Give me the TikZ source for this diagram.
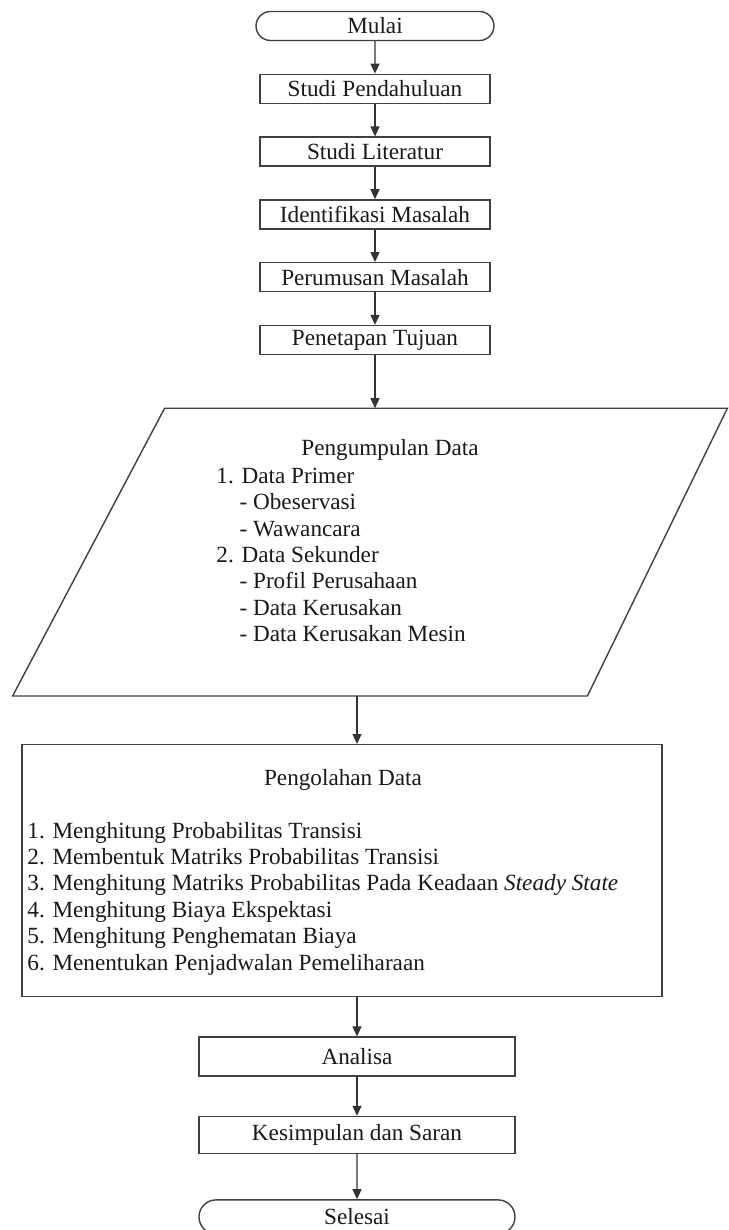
\documentclass[tikz,border=0pt]{standalone}
\usepackage{fontspec}
\setmainfont{Liberation Serif}
\usetikzlibrary{arrows.meta,positioning,shapes.misc}

\begin{document}
\begin{tikzpicture}[
    x=0.5pt, y=-0.5pt,
    node distance=16.2pt,
    every node/.style={font=\fontsize{11.6}{13.2}\selectfont, text=black!90},
    garis/.style={line width=0.7pt, draw=black!75},
    terminal/.style={garis, rounded rectangle, minimum width=119pt, minimum height=14.5pt, inner sep=0pt},
    proses/.style={garis, rectangle, minimum width=115pt, minimum height=14.5pt, inner sep=0pt},
    prosesb/.style={garis, rectangle, minimum width=158pt, minimum height=19.5pt, inner sep=0pt},
    teks/.style={inner sep=0pt, align=left},
    arrow/.style={-{Triangle[length=5pt,width=4.5pt]}, line width=0.7pt, draw=black!80}
]
\useasboundingbox (0,0) rectangle (728,1230);

\node[terminal] (mulai) at (375,26) {Mulai};
\node[proses, below=of mulai] (pendahuluan) {Studi Pendahuluan};
\node[proses, below=of pendahuluan] (literatur) {Studi Literatur};
\node[proses, below=of literatur] (identifikasi) {Identifikasi Masalah};
\node[proses, below=of identifikasi] (perumusan) {Perumusan Masalah};
\node[proses, below=of perumusan] (tujuan) {Penetapan Tujuan};

% jajaran genjang pengumpulan data
\node[minimum width=357pt, minimum height=143.5pt, inner sep=0pt, below=26.5pt of tujuan, xshift=-2.5pt] (kumpul) {};
\draw[garis] ([xshift=76pt]kumpul.north west) -- (kumpul.north east) -- ([xshift=-70pt]kumpul.south east) -- (kumpul.south west) -- cycle;
\node[teks] (judulkumpul) at (390,450) {Pengumpulan Data};
\node[teks, anchor=west] (isikumpul) at (216,555) {1. Data Primer\\
\hspace*{1em}- Obeservasi\\
\hspace*{1em}- Wawancara\\
2. Data Sekunder\\
\hspace*{1em}- Profil Perusahaan\\
\hspace*{1em}- Data Kerusakan\\
\hspace*{1em}- Data Kerusakan Mesin};

\node[garis, rectangle, minimum width=320pt, minimum height=126pt, inner sep=0pt, below=24pt of kumpul, xshift=-14pt] (olah) {};
\node[teks] (judulolah) at (343,780) {Pengolahan Data};
\node[teks, anchor=west] (isiolah) at (27,898.5) {1. Menghitung Probabilitas Transisi\\
2. Membentuk Matriks Probabilitas Transisi\\
3. Menghitung Matriks Probabilitas Pada Keadaan \textit{Steady State}\\
4. Menghitung Biaya Ekspektasi\\
5. Menghitung Penghematan Biaya\\
6. Menentukan Penjadwalan Pemeliharaan};

\node[prosesb, below=19.5pt of olah, xshift=7.5pt] (analisa) {Analisa};
\node[prosesb, below=19.5pt of analisa, minimum height=18.5pt] (kesimpulan) {Kesimpulan dan Saran};
\node[terminal, below=22.5pt of kesimpulan, minimum width=158pt, minimum height=17pt] (selesai) {Selesai};

\draw[arrow] (mulai) -- (pendahuluan);
\draw[arrow] (pendahuluan) -- (literatur);
\draw[arrow] (literatur) -- (identifikasi);
\draw[arrow] (identifikasi) -- (perumusan);
\draw[arrow] (perumusan) -- (tujuan);
\draw[arrow] (tujuan) -- (tujuan |- kumpul.north);
\draw[arrow] (kumpul.south -| analisa) -- (olah.north -| analisa);
\draw[arrow] (olah.south -| analisa) -- (analisa);
\draw[arrow] (analisa) -- (kesimpulan);
\draw[arrow] (kesimpulan) -- (selesai);
\end{tikzpicture}
\end{document}
